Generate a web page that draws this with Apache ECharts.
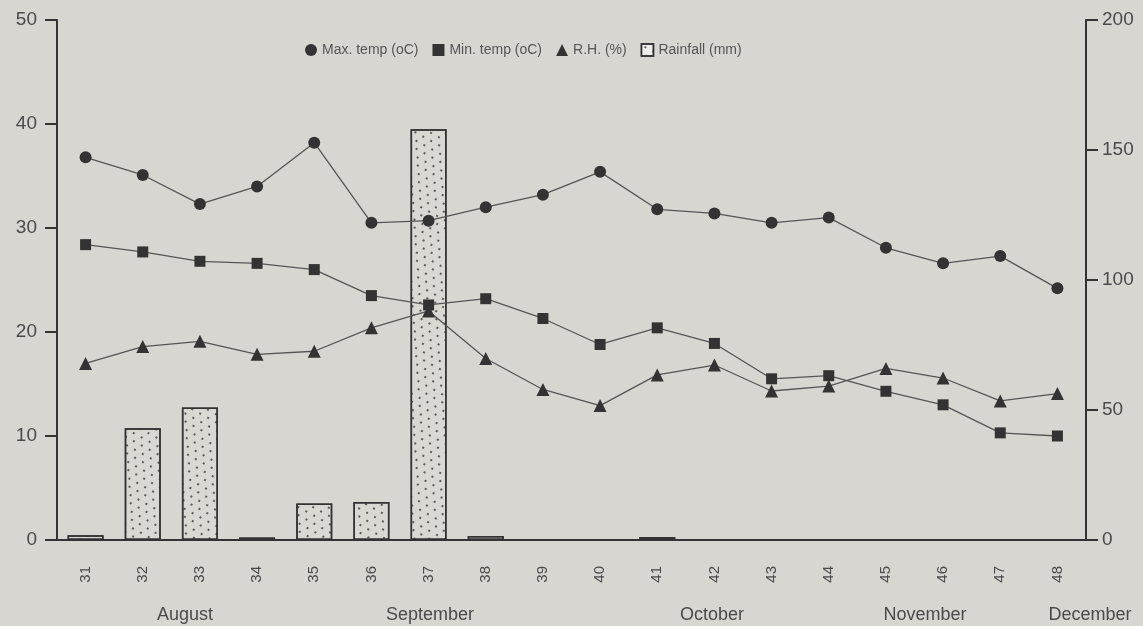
<!DOCTYPE html>
<html>
<head>
<meta charset="utf-8">
<script src="https://cdn.jsdelivr.net/npm/echarts@6/dist/echarts.min.js"></script>
<style>
html,body{margin:0;padding:0;background:#d8d6d1;}
#chart{width:1143px;height:626px;}
</style>
</head>
<body>
<div id="chart"></div>
<script>
var weeks = ['31','32','33','34','35','36','37','38','39','40','41','42','43','44','45','46','47','48'];
var maxTemp = [36.8,35.1,32.3,34.0,38.2,30.5,30.7,32.0,33.2,35.4,31.8,31.4,30.5,31.0,28.1,26.6,27.3,24.2];
var minTemp = [28.4,27.7,26.8,26.6,26.0,23.5,22.6,23.2,21.3,18.8,20.4,18.9,15.5,15.8,14.3,13.0,10.3,10.0];
var rh = [67.9,74.4,76.4,71.4,72.6,81.6,88.1,69.8,57.9,51.7,63.5,67.3,57.3,59.2,66.0,62.3,53.5,56.3];
var rainfall = [1.8,43,51,1,14,14.6,158,1.5,0,0,1.2,0,0,0,0,0,0,0];
var leftTicks = {min:0, max:50, interval:10};
var rightTicks = {min:0, max:200, interval:50};
var months = ['August','September','October','November','December'];
var monthX = [185,430,712,925,1090];

var ink = '#333';
var textCol = '#4a4a4a';
var chart = echarts.init(document.getElementById('chart'));
var lineBase = {type:'line', lineStyle:{color:'#555', width:1.3}, itemStyle:{color:ink}, symbolSize:12, z:3};
chart.setOption({
  backgroundColor:'#d8d6d1',
  animation:false,
  grid:{left:57, right:57, top:20, bottom:86},
  legend:{
    left:300, top:38, itemWidth:12, itemHeight:12, itemGap:14,
    textStyle:{color:'#555', fontSize:14, fontFamily:'Liberation Sans, Arial'},
    data:[
      {name:'Max. temp (oC)', icon:'circle'},
      {name:'Min. temp (oC)', icon:'rect'},
      {name:'R.H. (%)', icon:'triangle'},
      {name:'Rainfall (mm)', icon:'rect', itemStyle:{color:'#eeeeea', borderColor:ink, borderWidth:1.5}}
    ]
  },
  xAxis:[{
    type:'category', data:weeks, position:'bottom',
    axisLine:{lineStyle:{color:ink, width:2}},
    axisTick:{alignWithLabel:true, length:16, lineStyle:{color:ink, width:2}},
    axisLabel:{rotate:90, color:textCol, fontSize:15, margin:26, fontFamily:'Liberation Sans, Arial'}
  },{
    type:'category', data:weeks, position:'top',
    axisLine:{lineStyle:{color:ink, width:2}},
    axisTick:{show:false}, axisLabel:{show:false}
  }],
  yAxis:[{
    type:'value', min:leftTicks.min, max:leftTicks.max, interval:leftTicks.interval,
    axisLine:{show:true, lineStyle:{color:ink, width:2}},
    axisTick:{show:true, length:12, lineStyle:{color:ink, width:2}},
    splitLine:{show:false},
    axisLabel:{color:textCol, fontSize:19, margin:20, fontFamily:'Liberation Sans, Arial'}
  },{
    type:'value', min:rightTicks.min, max:rightTicks.max, interval:rightTicks.interval, position:'right',
    axisLine:{show:true, lineStyle:{color:ink, width:2}},
    axisTick:{show:true, length:12, lineStyle:{color:ink, width:2}},
    splitLine:{show:false},
    axisLabel:{color:textCol, fontSize:19, margin:16, fontFamily:'Liberation Sans, Arial'}
  }],
  series:[
    Object.assign({}, lineBase, {name:'Max. temp (oC)', data:maxTemp, symbol:'circle', yAxisIndex:0}),
    Object.assign({}, lineBase, {name:'Min. temp (oC)', data:minTemp, symbol:'rect', symbolSize:11, yAxisIndex:0}),
    Object.assign({}, lineBase, {name:'R.H. (%)', data:rh, symbol:'triangle', symbolSize:13, yAxisIndex:1}),
    {name:'Rainfall (mm)', type:'bar', data:rainfall, yAxisIndex:1, barWidth:36, z:1,
     itemStyle:{color:'#dad8d3', borderColor:ink, borderWidth:1.5,
       decal:{symbol:'rect', symbolSize:1, color:'rgba(50,50,50,0.75)', dashArrayX:[[1.5,7],[0,4,1.5,2.5]], dashArrayY:[1.5,5], rotation:0.5}}}
  ],
  graphic: months.map(function(m,i){
    return {type:'text', x:monthX[i], y:615, style:{text:m, fill:textCol, font:'18px "Liberation Sans", Arial', align:'center', verticalAlign:'middle'}};
  })
});
</script>
</body>
</html>
